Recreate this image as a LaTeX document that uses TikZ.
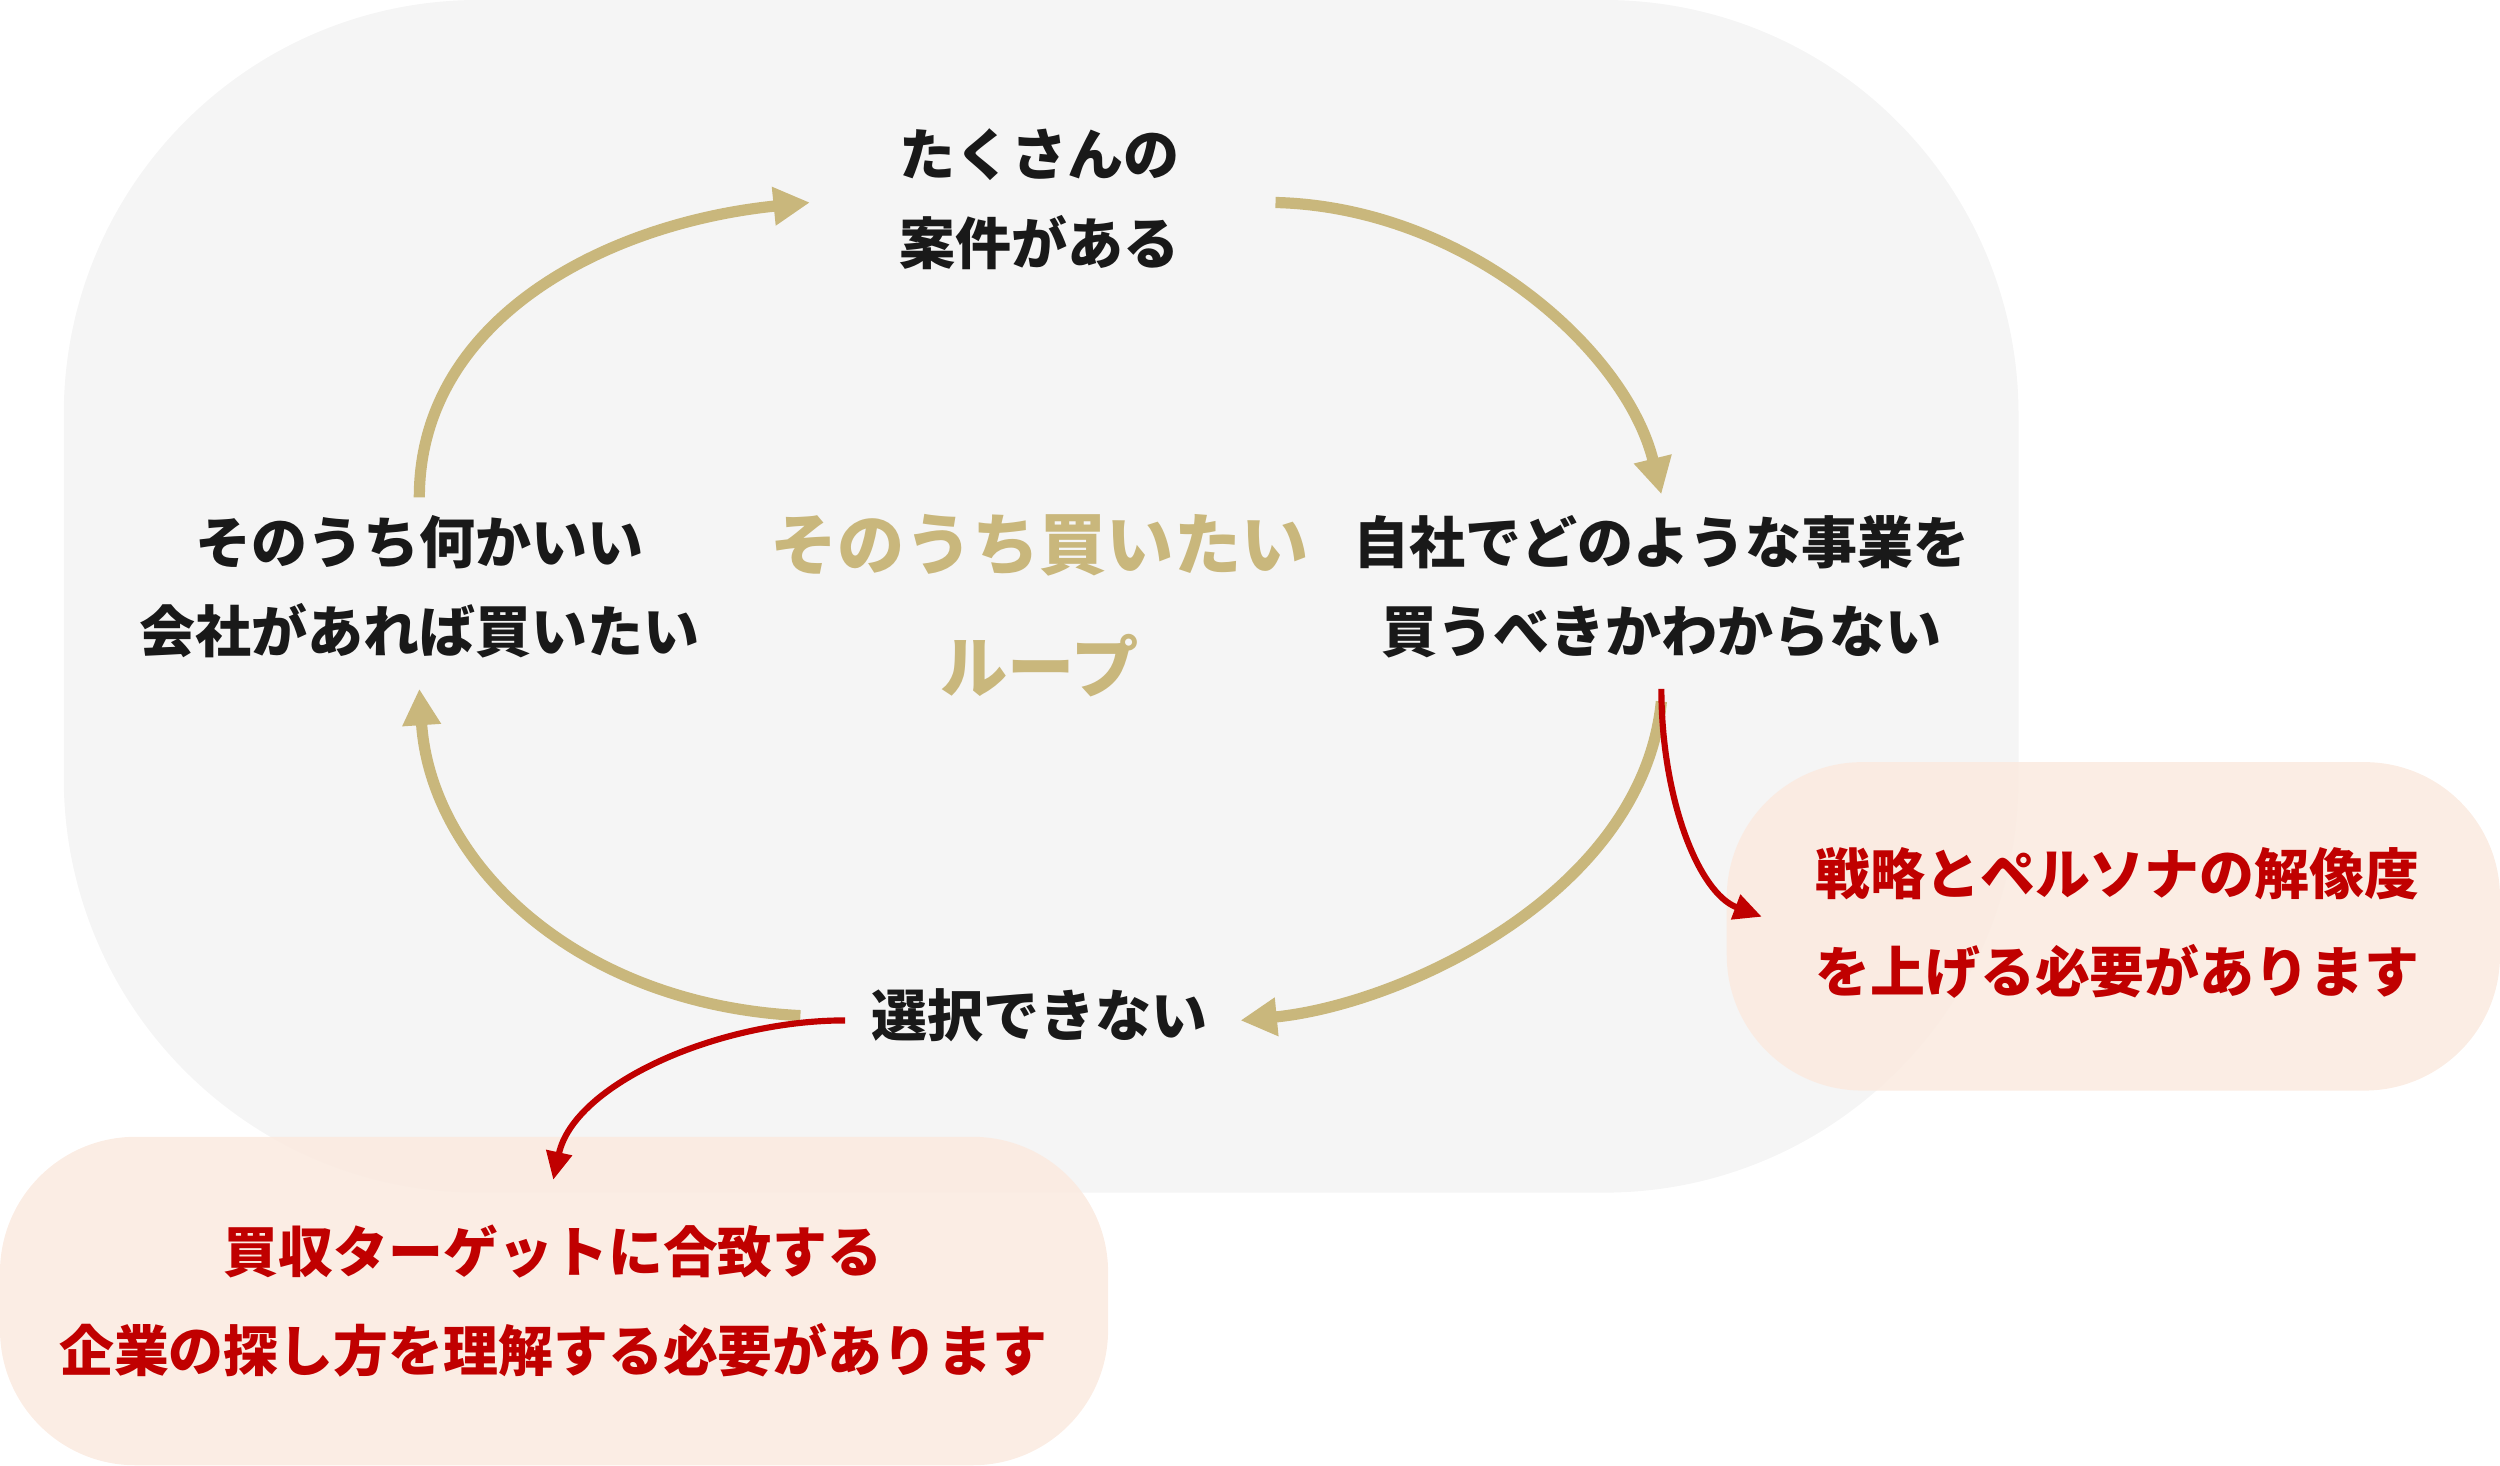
\documentclass[tikz,border=0pt]{standalone}
\usepackage{fontspec}
\setmainfont{Noto Sans CJK JP}
\usetikzlibrary{arrows.meta}
\definecolor{bg}{HTML}{F5F5F5}
\definecolor{pk}{HTML}{FBEBE1}
\definecolor{gd}{HTML}{C9B77C}
\definecolor{rd}{HTML}{C00000}
\begin{document}
\begin{tikzpicture}[x=0.02cm,y=-0.02cm,
  t/.style={align=center,font=\bfseries\fontsize{20}{32}\selectfont,text=black!90},
  r/.style={align=center,font=\bfseries\fontsize{19.6}{35}\selectfont,text=rd},
  ga/.style={line width=4pt,draw=gd,-{Triangle[length=13pt,width=13pt]}},
  ra/.style={line width=2.2pt,draw=rd,-{Triangle[length=10pt,width=9pt]}}]
\useasboundingbox (0,0) rectangle (1568,919);
\fill[bg,rounded corners=5.2cm] (40,0) rectangle (1266,748);
\fill[pk,opacity=0.9,rounded corners=1.7cm] (1083,478) rectangle (1568,684);
\fill[pk,opacity=0.9,rounded corners=1.7cm] (0,713) rectangle (695,919);
\node[t] (top) at (652,125) {たくさんの\\案件がある};
\node[t] (right) at (1042,368) {自社でどのような事業を\\買うべきかわからない};
\node[t] (bot) at (652,637) {選択できない};
\node[t] (left) at (263,368) {そのうち何かいい\\会社があれば買いたい};
\node[align=center,font=\bfseries\fontsize{24}{44}\selectfont,text=gd] (mid) at (652,380) {そのうち買いたい\\ループ};
\node[r] (rb) at (1328,579) {戦略とペルソナの解像度\\を上げる必要があります};
\node[r] (lb) at (347,816) {買収ターゲットに合致する\\企業の探し方を理解する必要があります};
\coordinate (a1) at (263,312); \coordinate (a2) at (508,127);
\coordinate (b1) at (800,127); \coordinate (b2) at (1042,310);
\coordinate (c1) at (1042,440); \coordinate (c2) at (778,640);
\coordinate (d1) at (502,637); \coordinate (d2) at (263,432);
\coordinate (e1) at (1042,432); \coordinate (e2) at (1105,575);
\coordinate (f1) at (530,640); \coordinate (f2) at (347,740);
\draw[ga] (a1) .. controls (263,200) and (380,140) .. (a2);
\draw[ga] (b1) .. controls (920,130) and (1020,220) .. (b2);
\draw[ga] (c1) .. controls (1030,560) and (880,630) .. (c2);
\draw[ga] (d1) .. controls (360,630) and (270,540) .. (d2);
\draw[ra] (e1) .. controls (1042,500) and (1065,560) .. (e2);
\draw[ra] (f1) .. controls (450,640) and (360,680) .. (f2);
\end{tikzpicture}
\end{document}
